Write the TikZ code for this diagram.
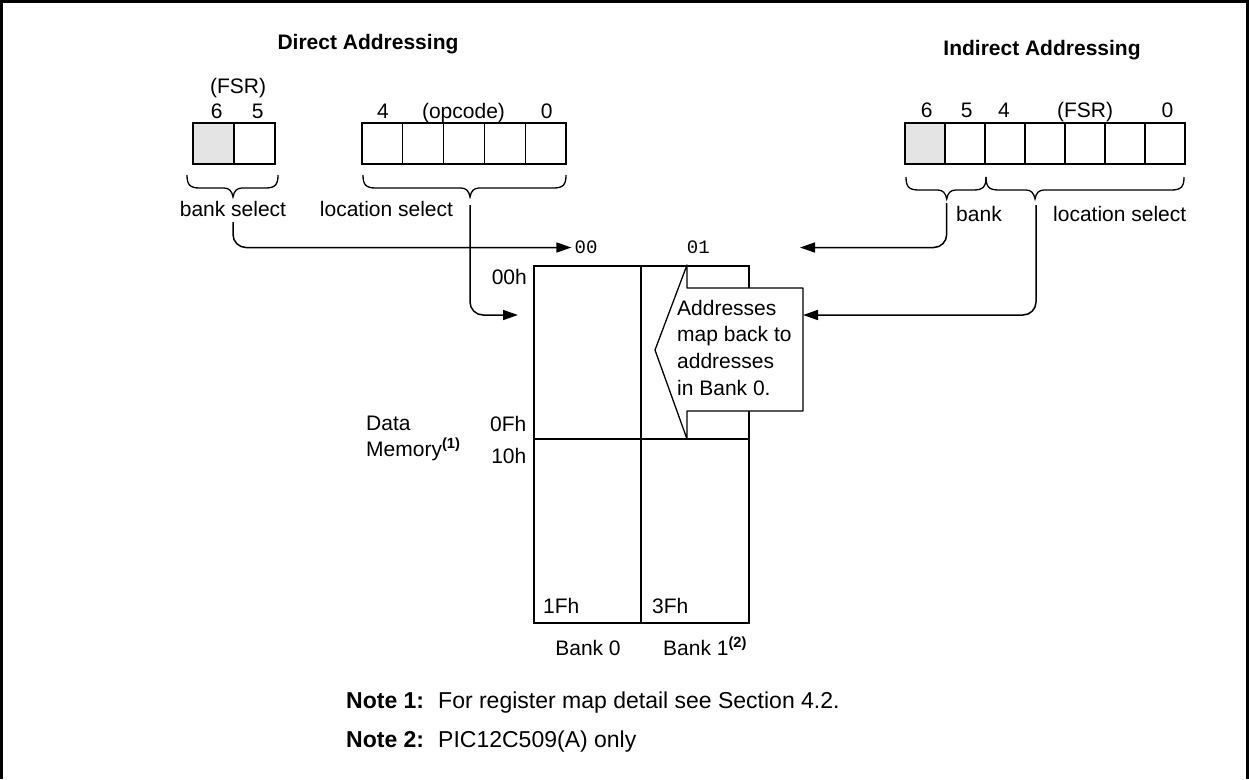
\documentclass[tikz,border=0pt]{standalone}
\usepackage{fontspec}
\setmainfont{Liberation Sans}
\newfontfamily\monof{Liberation Mono}
\usetikzlibrary{arrows.meta}
\definecolor{boxgray}{HTML}{E4E4E4}
\newcommand\mybrace[4]{%
 \draw[bline] (#1,#4) .. controls (#1,{#4+10}) and ({#1+3},{#4+13}) .. ({#1+13},{#4+13}) -- ({#2-9},{#4+13}) .. controls ({#2-4},{#4+13}) and ({#2-1},{#4+16}) .. (#2,{#4+22}) .. controls ({#2+1},{#4+16}) and ({#2+4},{#4+13}) .. ({#2+9},{#4+13}) -- ({#3-13},{#4+13}) .. controls ({#3-3},{#4+13}) and (#3,{#4+10}) .. (#3,#4);}
\begin{document}
\begin{tikzpicture}[x=1pt,y=-1pt,
 txt/.style={font=\fontsize{21}{25}\selectfont, inner sep=0pt},
 ttl/.style={font=\bfseries\fontsize{21}{25}\selectfont, inner sep=0pt},
 notetxt/.style={font=\fontsize{23}{27}\selectfont, inner sep=0pt},
 notettl/.style={font=\bfseries\fontsize{23}{27}\selectfont, inner sep=0pt},
 mono/.style={font=\monof\fontsize{19}{22}\selectfont, inner sep=0pt},
 bitbox/.style={draw, line width=1.3pt, minimum width=41pt, minimum height=41pt, inner sep=0pt},
 bline/.style={line width=1.3pt},
 conn/.style={line width=1.5pt, rounded corners=13pt, -{Triangle[length=15pt,width=10pt]}},
 mem/.style={draw, line width=1.5pt, inner sep=0pt, anchor=north west},
]
\useasboundingbox (0,0) rectangle (1249,779);
\draw[line width=2.5pt] (1.5,779) -- (1.5,1.5) -- (1247.5,1.5) -- (1247.5,779);

% titles
\node[ttl, anchor=base] (tD) at (368,49) {Direct Addressing};
\node[ttl, anchor=base] (tI) at (1042,55) {Indirect Addressing};

% direct addressing registers
\node[txt, anchor=base] (fsrD) at (238,93) {(FSR)};
\node[txt, anchor=base] (d6l) at (216.7,118) {6};
\node[txt, anchor=base] (d5l) at (257.7,118) {5};
\node[bitbox, fill=boxgray] (d6) at (213.5,143.5) {};
\node[bitbox] (d5) at (254.5,143.5) {};
\foreach \i in {0,...,4} \node[bitbox, minimum width=40.8pt] (o\i) at ({382.4+40.8*\i},143.5) {};
\node[txt, anchor=base] (o4l) at (383,118) {4};
\node[txt, anchor=base] (opl) at (463.5,118) {(opcode)};
\node[txt, anchor=base] (o0l) at (546.7,118) {0};
\mybrace{187}{233}{278}{175}
\mybrace{363}{470}{566}{175}
\node[txt, anchor=base] (bsel) at (233,216) {bank select};
\node[txt, anchor=base] (lsel) at (386.5,216) {location select};

% indirect addressing register
\foreach \i in {0,...,6} \node[bitbox, minimum width=40pt] (f\i) at ({925+40*\i},143.5) {};
\fill[boxgray] (905.65,123.65) rectangle (944.35,163.35);
\draw[line width=1.3pt] (905,123) rectangle (945,164);
\node[txt, anchor=base] (i6l) at (926.7,117) {6};
\node[txt, anchor=base] (i5l) at (966.7,117) {5};
\node[txt, anchor=base] (i4l) at (1004,117) {4};
\node[txt, anchor=base] (ifsr) at (1085,117) {(FSR)};
\node[txt, anchor=base] (i0l) at (1167.5,117) {0};
\mybrace{906}{946.7}{986}{177}
\mybrace{986}{1035}{1184}{177}
\node[txt, anchor=base] (ibank) at (979,221.7) {bank};
\node[txt, anchor=base] (iloc) at (1119.7,221.7) {location select};

% data memory
\node[mem, minimum width=107pt, minimum height=357pt] (bank0) at (533,265) {};
\node[mem, minimum width=108pt, minimum height=357pt] (bank1) at (640,265) {};
\draw[line width=1.5pt] (533,439) -- (750,439);
\draw[line width=1.3pt, fill=white, line join=round] (687,265) -- (687,288) -- (803,288) -- (803,411) -- (687,411) -- (687,439) -- (655,350) -- cycle;
\node[txt, anchor=base west] (c1) at (677,315) {Addresses};
\node[txt, anchor=base west] (c2) at (677,341.7) {map back to};
\node[txt, anchor=base west] (c3) at (677,368.3) {addresses};
\node[txt, anchor=base west] (c4) at (677,395) {in Bank 0.};
\coordinate (callE) at (803,315);

\node[mono] (n00) at (586,247.5) {00};
\node[mono] (n01) at (698.3,247.5) {01};
\node[txt, anchor=base east] (h00) at (527,284.5) {00h};
\node[txt, anchor=base east] (h0F) at (526.5,431.7) {0Fh};
\node[txt, anchor=base east] (h10) at (526.5,463) {10h};
\node[txt, anchor=base west] (dat) at (366,430.7) {Data};
\node[txt, anchor=base west] (memy) at (366,456) {Memory\textsuperscript{\textbf{(1)}}};
\node[txt, anchor=base west] (h1F) at (543,613.3) {1Fh};
\node[txt, anchor=base west] (h3F) at (652,613.3) {3Fh};
\node[txt, anchor=base] (bk0) at (588,655) {Bank 0};
\node[txt, anchor=base west] (bk1) at (663,655) {Bank 1\textsuperscript{\textbf{(2)}}};

% connectors
\coordinate (bsD) at (233,222);
\coordinate (lsD) at (470,205);
\coordinate (m0in) at (518,315);
\coordinate (bsI) at (946.7,203);
\coordinate (lsI) at (1036,205);
\coordinate (b1in) at (800,247.5);
\draw[conn] (bsD) |- ([xshift=-3pt]n00.west);
\draw[conn] (lsD) |- (m0in);
\draw[conn] (bsI) |- (b1in);
\draw[conn] (lsI) |- (callE);

% notes
\node[notettl, anchor=base west] (n1a) at (346,708) {Note 1:};
\node[notetxt, anchor=base west] (n1b) at (438,708) {For register map detail see Section 4.2.};
\node[notettl, anchor=base west] (n2a) at (346,747) {Note 2:};
\node[notetxt, anchor=base west] (n2b) at (438,747) {PIC12C509(A) only};
\end{tikzpicture}
\end{document}
